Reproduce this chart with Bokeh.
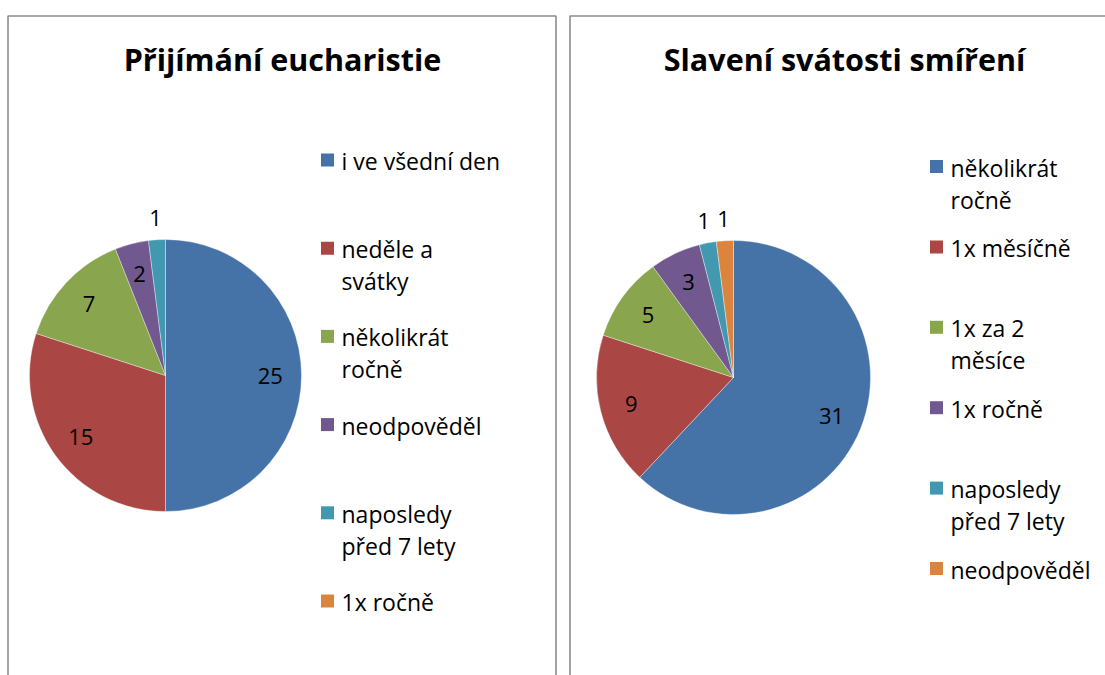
import numpy as np
from bokeh.plotting import figure
from bokeh.models import Range1d, ColumnDataSource
from bokeh.core.properties import value
from bokeh.embed import file_html
from bokeh.resources import INLINE

# ---------------- data ----------------
left_title = "Přijímání eucharistie"
left_labels = ["i ve všední den", "neděle a\nsvátky", "několikrát\nročně",
               "neodpověděl", "naposledy\npřed 7 lety", "1x ročně"]
left_values = [25, 15, 7, 2, 1, 0]

right_title = "Slavení svátosti smíření"
right_labels = ["několikrát\nročně", "1x měsíčně", "1x za 2\nměsíce",
                "1x ročně", "naposledy\npřed 7 lety", "neodpověděl"]
right_values = [31, 9, 5, 3, 1, 1]

colors = ["#4572A7", "#AA4643", "#89A54E", "#71588F", "#4198AF", "#DB843D"]

# ---------------- layout ----------------
W, H = 1105, 675
FONT = value("Open Sans")
BORDER = "#8c8c8c"


def X(ix):
    return ix


def Y(iy):
    return H - iy


p = figure(width=W, height=H, x_range=Range1d(0, W), y_range=Range1d(0, H),
           output_backend="svg", toolbar_location=None, min_border=0,
           x_axis_location=None, y_axis_location=None,
           outline_line_color=None, background_fill_color="white",
           border_fill_color="white")
p.grid.grid_line_color = None

# panel frames
p.quad(left=[X(7.5), X(569.5)], right=[X(555.5), X(1130)],
       top=[Y(15.5), Y(15.5)], bottom=[Y(700), Y(700)],
       fill_color=None, line_color=BORDER, line_width=1.6)


def draw_pie(values, labels, title, cx, cy, r, tx, ty, lx, ly0, lstep):
    vals = np.array(values, dtype=float)
    total = vals.sum()
    frac = vals / total
    c1 = np.cumsum(frac)
    c0 = c1 - frac
    start = np.pi / 2 - 2 * np.pi * c0
    end = np.pi / 2 - 2 * np.pi * c1
    nz = vals > 0
    src = ColumnDataSource(dict(start=start[nz], end=end[nz],
                                color=[c for c, k in zip(colors, nz) if k]))
    p.wedge(x=X(cx), y=Y(cy), radius=r, start_angle="start", end_angle="end",
            direction="clock", fill_color="color", line_color="white",
            line_width=0.6, line_alpha=0.6, source=src)

    # data labels
    mid = 2 * np.pi * (c0 + c1) / 2  # clockwise from top
    fac = np.where(frac > 0.03, 0.77, 1.16)
    lxs = X(cx) + np.sin(mid) * r * fac
    lys = Y(cy) + np.cos(mid) * r * fac
    txt = [str(v) for v in values]
    lsrc = ColumnDataSource(dict(x=lxs[nz], y=lys[nz],
                                 t=[t for t, k in zip(txt, nz) if k]))
    p.text(x="x", y="y", text="t", source=lsrc, text_font=FONT,
           text_font_size="22px", text_align="center", text_baseline="middle",
           text_color="black")

    # title
    p.text(x=[X(tx)], y=[Y(ty)], text=[title], text_font=FONT,
           text_font_size="30.5px", text_font_style="bold", text_align="center",
           text_baseline="alphabetic", text_color="black")

    # legend
    sq_y = [Y(ly0 + i * lstep) for i in range(len(labels))]
    p.rect(x=[X(lx)] * len(labels), y=sq_y, width=13, height=13,
           width_units="screen", height_units="screen",
           fill_color=colors[:len(labels)], line_color=None)
    tx_l, ty_l, tt_l = [], [], []
    for i, lab in enumerate(labels):
        for j, line in enumerate(lab.split("\n")):
            tx_l.append(X(lx + 14))
            ty_l.append(sq_y[i] - 1 - j * 32)
            tt_l.append(line)
    p.text(x=tx_l, y=ty_l, text=tt_l, text_font=FONT, text_font_size="23px",
           text_align="left", text_baseline="alphabetic", text_color="black")


draw_pie(left_values, left_labels, left_title, 165, 375, 136,
         282, 58, 327, 159.5, 88.2)
draw_pie(right_values, right_labels, right_title, 733, 377, 137,
         844, 58, 936, 166, 80.4)

open("out.html", "w").write(file_html(p, INLINE))
